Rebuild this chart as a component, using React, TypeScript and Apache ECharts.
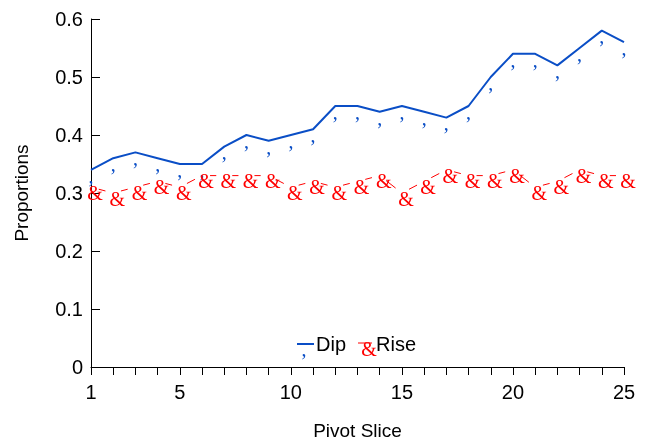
import React, { useEffect, useRef } from 'react';
import * as echarts from 'echarts';

const slices = [1, 2, 3, 4, 5, 6, 7, 8, 9, 10, 11, 12, 13, 14, 15, 16, 17, 18, 19, 20, 21, 22, 23, 24, 25];
const dip = [0.34, 0.36, 0.37, 0.36, 0.35, 0.35, 0.38, 0.40, 0.39, 0.40, 0.41, 0.45, 0.45, 0.44, 0.45, 0.44, 0.43, 0.45, 0.50, 0.54, 0.54, 0.52, 0.55, 0.58, 0.56];
const rise = [0.31, 0.30, 0.31, 0.32, 0.31, 0.33, 0.33, 0.33, 0.33, 0.31, 0.32, 0.31, 0.32, 0.33, 0.30, 0.32, 0.34, 0.33, 0.33, 0.34, 0.31, 0.32, 0.34, 0.33, 0.33];
const seriesNames = ['Dip', 'Rise'];
const xLabelTicks = [1, 5, 10, 15, 20, 25];

const BLUE = '#0a4ec6';
const RED = '#ff0000';
const SANS = '"Liberation Sans", Arial, sans-serif';
const SERIF = '"Liberation Serif", "Times New Roman", serif';

export default function App() {
  const ref = useRef<HTMLDivElement>(null);
  useEffect(() => {
    if (!ref.current) return;
    const chart = echarts.init(ref.current, null, { renderer: 'svg' });
    const GAP = 8;
    const riseSegs = rise.slice(0, -1).map((v, i) => [slices[i], v, slices[i + 1], rise[i + 1]]);
    const markerItem = (ch: string, color: string, dx: number) => (params: any, api: any) => {
      const p = api.coord([api.value(0), api.value(1)]);
      return {
        type: 'text',
        x: p[0] + dx,
        y: p[1] + 5.75,
        style: { text: ch, fill: color, font: `20px ${SERIF}`, align: 'center', verticalAlign: 'middle' },
      };
    };
    chart.setOption({
      animation: false,
      textStyle: { fontFamily: SANS },
      grid: { left: 91, right: 22, top: 19, bottom: 74, containLabel: false, outerBoundsMode: 'none' },
      xAxis: {
        type: 'value',
        min: 1,
        max: 25,
        interval: 1,
        name: 'Pivot Slice',
        nameLocation: 'middle',
        nameGap: 54,
        nameTextStyle: { fontSize: 19, color: '#000', fontFamily: SANS },
        splitLine: { show: false },
        axisLine: { onZero: false, lineStyle: { color: '#000', width: 1 } },
        axisTick: { length: 8, lineStyle: { color: '#000', width: 1 } },
        axisLabel: {
          margin: 15,
          fontSize: 20,
          color: '#000',
          fontFamily: SANS,
          formatter: (v: number) => (xLabelTicks.includes(v) ? String(v) : ''),
        },
      },
      yAxis: {
        type: 'value',
        min: 0,
        max: 0.6,
        interval: 0.1,
        name: 'Proportions',
        nameLocation: 'middle',
        nameGap: 60,
        nameTextStyle: { fontSize: 19, color: '#000', fontFamily: SANS },
        splitLine: { show: false },
        axisLine: { show: true, lineStyle: { color: '#000', width: 1 } },
        axisTick: { show: true, inside: true, length: 9, lineStyle: { color: '#000', width: 1 } },
        axisLabel: {
          margin: 8,
          fontSize: 20,
          color: '#000',
          fontFamily: SANS,
          formatter: (v: number) => (v === 0 ? '0' : v.toFixed(1)),
        },
      },
      series: [
        {
          name: seriesNames[0],
          type: 'line',
          data: slices.map((x, i) => [x, dip[i]]),
          symbol: 'none',
          lineStyle: { color: BLUE, width: 2 },
          z: 2,
        },
        {
          name: seriesNames[0] + ' markers',
          type: 'custom',
          data: slices.map((x, i) => [x, dip[i]]),
          encode: { x: 0, y: 1 },
          renderItem: markerItem(',', BLUE, 0),
          z: 3,
        },
        {
          name: seriesNames[1],
          type: 'custom',
          data: riseSegs,
          encode: { x: [0, 2], y: [1, 3] },
          renderItem: (params: any, api: any) => {
            const p1 = api.coord([api.value(0), api.value(1)]);
            const p2 = api.coord([api.value(2), api.value(3)]);
            const dx = p2[0] - p1[0];
            const dy = p2[1] - p1[1];
            const d = Math.hypot(dx, dy);
            if (d <= 2 * GAP) return { type: 'group', children: [] };
            const ux = dx / d;
            const uy = dy / d;
            return {
              type: 'line',
              shape: { x1: p1[0] + ux * GAP, y1: p1[1] + uy * GAP, x2: p2[0] - ux * GAP, y2: p2[1] - uy * GAP },
              style: { stroke: RED, lineWidth: 1 },
            };
          },
          z: 2,
        },
        {
          name: seriesNames[1] + ' markers',
          type: 'custom',
          data: slices.map((x, i) => [x, rise[i]]),
          encode: { x: 0, y: 1 },
          renderItem: markerItem('&', RED, 4),
          z: 3,
        },
      ],
      graphic: [
        { type: 'line', shape: { x1: 297, y1: 344, x2: 314, y2: 344 }, style: { stroke: BLUE, lineWidth: 2 } },
        { type: 'text', x: 304, y: 348.5, style: { text: ',', fill: BLUE, font: `20px ${SERIF}`, align: 'center', verticalAlign: 'middle' } },
        { type: 'text', x: 316, y: 344, style: { text: seriesNames[0], fill: '#000', font: `20px ${SANS}`, align: 'left', verticalAlign: 'middle' } },
        { type: 'line', shape: { x1: 358, y1: 343, x2: 372, y2: 343 }, style: { stroke: RED, lineWidth: 1 } },
        { type: 'text', x: 369, y: 348.75, style: { text: '&', fill: RED, font: `20px ${SERIF}`, align: 'center', verticalAlign: 'middle' } },
        { type: 'text', x: 376, y: 344, style: { text: seriesNames[1], fill: '#000', font: `20px ${SANS}`, align: 'left', verticalAlign: 'middle' } },
      ],
    });
    return () => chart.dispose();
  }, []);
  return <div ref={ref} style={{ position: 'fixed', left: 0, top: 0, width: 646, height: 441 }} />;
}
